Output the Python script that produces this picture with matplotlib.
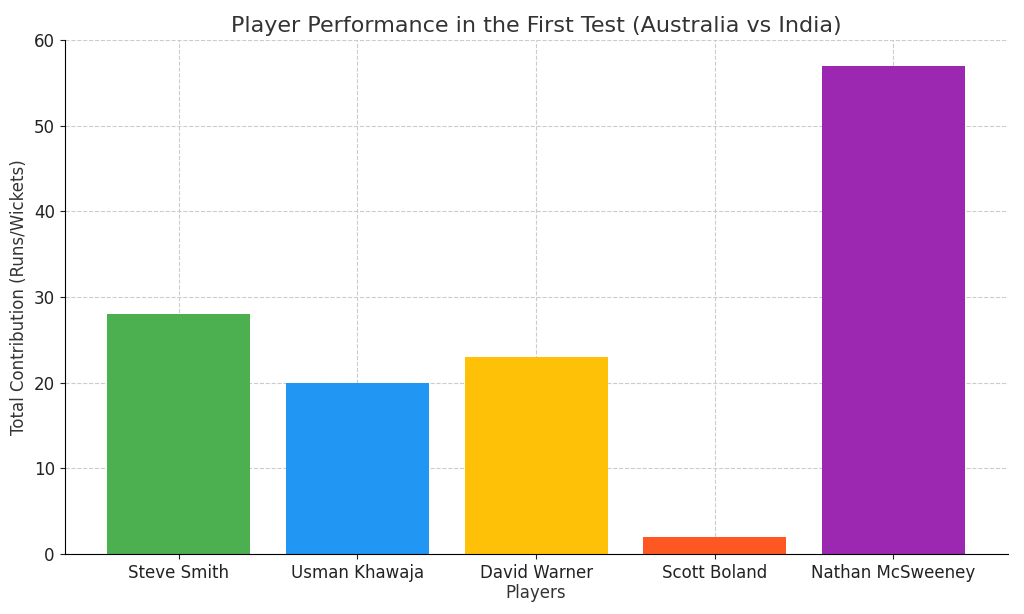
import matplotlib.pyplot as plt

players = ['Steve Smith', 'Usman Khawaja', 'David Warner', 'Scott Boland', 'Nathan McSweeney']
contributions = [28, 20, 23, 2, 57]
colors = ['#4CAF50', '#2196F3', '#FFC107', '#FF5722', '#9C27B0']

fig = plt.figure(figsize=(10.24, 6.14), dpi=100)
ax = fig.add_axes([0.063, 0.098, 0.921, 0.837])

ax.bar(players, contributions, color=colors, width=0.8, zorder=2)
ax.set_xlim(-0.64, 4.64)
ax.set_ylim(0, 60)
ax.grid(True, ls='--', color='#cccccc', lw=0.8, zorder=0)
ax.spines['top'].set_visible(False)
ax.spines['right'].set_visible(False)
ax.tick_params(labelsize=12, colors='#222222')

ax.set_title('Player Performance in the First Test (Australia vs India)', fontsize=16, color='#333333')
ax.set_xlabel('Players', fontsize=12, color='#333333', labelpad=2)
ax.set_ylabel('Total Contribution (Runs/Wickets)', fontsize=12, color='#333333')

plt.savefig('out.png', dpi=100)
